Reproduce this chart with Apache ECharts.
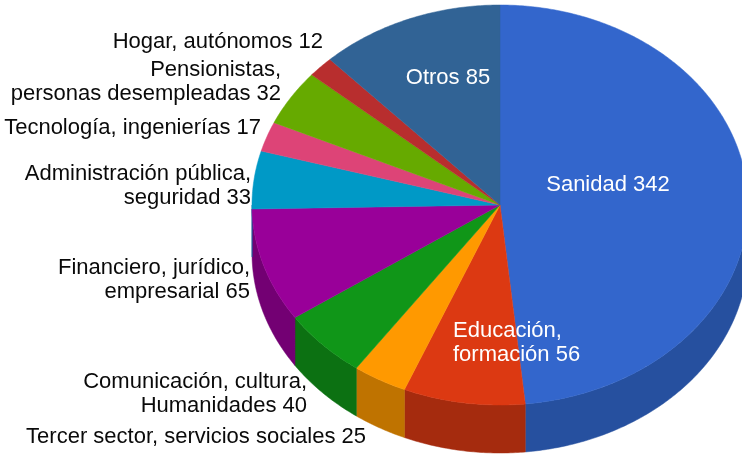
<!DOCTYPE html>
<html>
<head>
<meta charset="utf-8">
<style>
  html, body { margin: 0; padding: 0; background: #fff; }
  #chart { width: 742px; height: 454px; }
</style>
<script src="https://cdn.jsdelivr.net/npm/echarts@6/dist/echarts.min.js"></script>
</head>
<body>
<div id="chart"></div>
<script>
const categories = [
  'Sanidad',
  'Educación,\nformación',
  'Tercer sector, servicios sociales',
  'Comunicación, cultura,\nHumanidades',
  'Financiero, jurídico,\nempresarial',
  'Administración pública,\nseguridad',
  'Tecnología, ingenierías',
  'Pensionistas,\npersonas desempleadas',
  'Hogar, autónomos',
  'Otros'
]
const values = [342, 56, 25, 40, 65, 33, 17, 32, 12, 85]

const topColors = ['#3366cc', '#dc3912', '#ff9900', '#109618', '#990099', '#0099c6', '#dd4477', '#66aa00', '#b82e2e', '#316395']
const sideColors = ['#26509f', '#a52b0e', '#bf7300', '#0c7112', '#730073', '#0073a0', '#a63359', '#4d8000', '#8a2222', '#254a70']

// label anchors: x, y (middle of block), align, colour
const labelPlaces = [
  [608, 185, 'center', '#fff'],
  [453, 343, 'left', '#fff'],
  [366, 437, 'right', '#0a0a0a'],
  [307, 394, 'right', '#0a0a0a'],
  [250, 280, 'right', '#0a0a0a'],
  [251, 186, 'right', '#0a0a0a'],
  [261, 128, 'right', '#0a0a0a'],
  [281, 82, 'right', '#0a0a0a'],
  [323, 42, 'right', '#0a0a0a'],
  [448, 78, 'center', '#fff']
]

// the pie lies flat, so it's an ellipse with a wall under the front half
const cx = 500, cy = 205, rx = 248, ry = 200, depth = 48
const total = values.reduce((a, b) => a + b, 0)

function sliceAngles(i) {
  let sum = 0
  for (let k = 0; k < i; k++) sum += values[k]
  return [sum / total * Math.PI * 2, (sum + values[i]) / total * Math.PI * 2]
}

function rim(a, drop) {
  return [cx + rx * Math.sin(a), cy - ry * Math.cos(a) + drop]
}

function arcPoints(a0, a1, drop) {
  const n = Math.max(2, Math.ceil((a1 - a0) / 0.01))
  const pts = []
  for (let k = 0; k <= n; k++) pts.push(rim(a0 + (a1 - a0) * k / n, drop))
  return pts
}

function renderWall(params, api) {
  const i = api.value(0)
  const [s, e] = sliceAngles(i)
  const a0 = Math.max(s, Math.PI / 2)
  const a1 = Math.min(e, Math.PI * 1.5)
  if (a1 <= a0) return { type: 'group', children: [] }
  const pts = arcPoints(a0, a1, 0).concat(arcPoints(a0, a1, depth).reverse())
  return {
    type: 'polygon',
    shape: { points: pts.map(p => api.coord(p)) },
    style: { fill: sideColors[i], stroke: sideColors[i], lineWidth: 0.5 }
  }
}

function renderTop(params, api) {
  const i = api.value(0)
  const [s, e] = sliceAngles(i)
  const pts = [[cx, cy]].concat(arcPoints(s, e, 0))
  const place = labelPlaces[i]
  const pos = api.coord([place[0], place[1]])
  return {
    type: 'group',
    children: [
      {
        type: 'polygon',
        shape: { points: pts.map(p => api.coord(p)) },
        style: { fill: topColors[i], stroke: topColors[i], lineWidth: 0.5 }
      },
      {
        type: 'text',
        z2: 10,
        x: pos[0],
        y: pos[1],
        style: {
          text: categories[i] + ' ' + values[i],
          fill: place[3],
          align: place[2],
          verticalAlign: 'middle',
          font: '22px "Liberation Sans", Arial, sans-serif',
          lineHeight: 24
        }
      }
    ]
  }
}

const chart = echarts.init(document.getElementById('chart'))
const rows = values.map((v, i) => [i, v])

chart.setOption({
  animation: false,
  grid: { left: 0, right: 0, top: 0, bottom: 0 },
  xAxis: { type: 'value', min: 0, max: 742, show: false },
  yAxis: { type: 'value', min: 0, max: 454, inverse: true, show: false },
  series: [
    { type: 'custom', z: 1, clip: true, renderItem: renderWall, data: rows },
    { type: 'custom', z: 2, clip: true, renderItem: renderTop, data: rows }
  ]
})
</script>
</body>
</html>
